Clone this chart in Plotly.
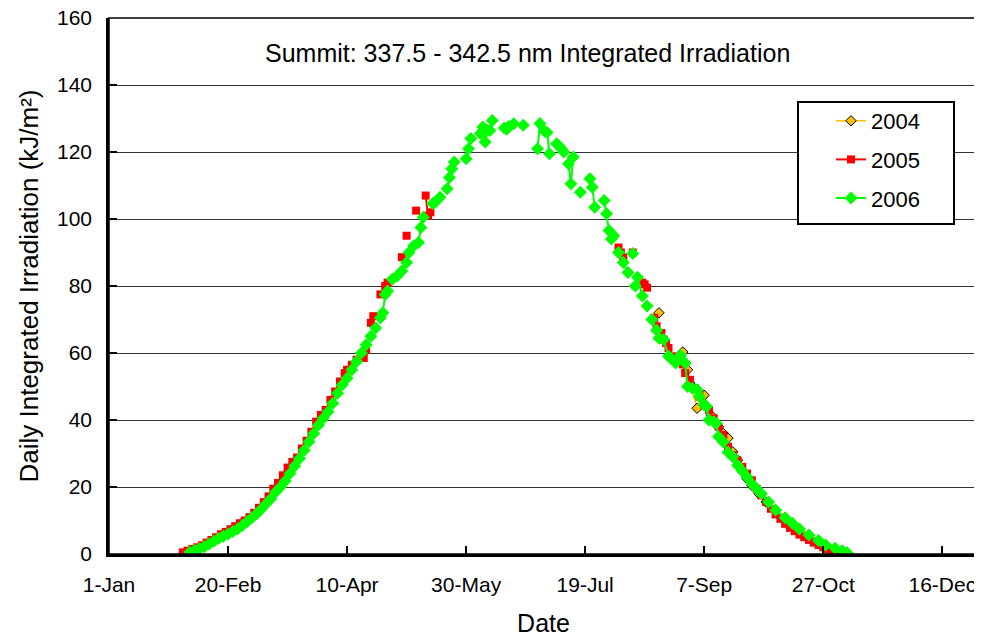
import plotly.graph_objects as go

# x = day of year (0 = 1-Jan), None = gap in record
tick_days = [0, 50, 100, 150, 200, 250, 300, 350]
tick_labels = ["1-Jan", "20-Feb", "10-Apr", "30-May", "19-Jul", "7-Sep", "27-Oct", "16-Dec"]

days_2004 = [231, None, 241, 243, 244, 247, 250, 253, 256, 258, 260, 262, 264, 266, 268, 270, 273, 276,
             280, 284, 287, 290, 294, 298, 301, 305, 308]
vals_2004 = [72.0, None, 60.3, 55.0, 51.0, 43.5, 47.4, 41.4, 38.0, 36.0, 34.6, 30.5, 28.0, 25.0, 22.5, 20.5, 18.0, 15.5,
             13.0, 10.5, 9.0, 7.5, 5.5, 3.8, 2.6, 1.5, 0.9]

days_2005 = [31, 33, 35, 37, 39, 41, 43, 45, 47, 49, 51, 53, 55, 57, 59, 61, 63, 65, 67, 69, 71, 73, 75, 77, 79,
             81, 83, 85, 87, 89, 91, 93, 95, 97, 99, 100, 102, 104, None, 106, 107, 108, None, 110, 111, None,
             114, None, 116, 117, None, 123, None, 125, None, 129, None, 133, 134, 135, None,
             214, 215, 216, None, 220, None, 224, 225, 226, None, 229, 230, 232, 233, 234, 235, 237, 239, 241,
             242, 244, 246, 248, 250, 252, 254, 256, 258, 260, 262, 264, 266, 268, 270, 272, 274, 276, 278,
             280, 282, 284, 286, 288, 290, 292, 294, 296, 298, 300, 302, 304, 306, 308]
vals_2005 = [0.5, 1.0, 1.5, 2.0, 2.6, 3.4, 4.2, 5.0, 5.9, 6.6, 7.4, 8.3, 9.2, 10.0, 11.0, 12.3, 13.8, 15.5, 17.2,
             19.5, 21.2, 23.5, 25.8, 27.5, 28.8, 31.5, 33.8, 36.5, 39.5, 41.5, 43.0, 46.0, 48.5, 51.5, 54.0, 55.0,
             56.5, 58.0, None, 59.5, 58.5, 61.0, None, 69.0, 71.0, None, 77.5, None, 80.0, 81.0, None, 88.6, None,
             95.0, None, 102.5, None, 107.0, 101.0, 102.0, None,
             91.5, 90.0, 88.5, None, 90.0, None, 81.0, 80.5, 79.5, None, 70.5, 68.0, 66.0, 64.0, 63.0, 61.5, 59.0,
             57.5, 56.6, 54.0, 52.0, 49.5, 47.0, 44.5, 43.0, 40.5, 38.0, 35.5, 32.0, 29.5, 28.0, 26.0, 24.0, 22.0,
             19.5, 17.5, 15.5, 13.5, 11.8, 10.5, 9.0, 7.8, 6.8, 5.8, 5.0, 4.2, 3.4, 2.7, 2.0, 1.4, 0.9, 0.5, 0.3]

days_2006 = [34, 36, 38, 40, 42, 44, 46, 48, 50, 52, 54, 56, 58, 60, 62, 64, 66, 68, None, 70, 72, 74, 76, 78, 80,
             82, None, 84, 86, 88, 90, 92, 94, 96, 98, 100, None, 102, 104, None, 106, 108, None, 110, None, 112,
             None, 114, 115, 116, 117, None, 119, None, 121, 123, 125, 126, None, 128, None, 130, 131, 132, None,
             136, None, 137, 139, None, 142, 143, 144, 145, None, 150, 151, 152, None, 156, 157, 158, 159, 160,
             None, 161, None, 166, 167, 168, 170, None, 174, None, 180, 181, 183, 184, 185, None, 188, 189, 190,
             191, None, 193, 194, 195, None, 198, None, 202, 203, 204, None, 208, 209, 210, 211, 212, None,
             214, 216, 218, None, 220, None, 221, 222, 224, None, 226, None,
             228, 230, 231, 233, 235, 236, 238, 240, 242, 243, 245, 247, 248, 250, 251, 252, 254, 255, 256,
             258, 260, 262, 264, 266, 268, 270, 272, 274, 277, 280, 284, 287, 290, 294, 298, 301, 305, 308, 310]
vals_2006 = [0.6, 1.1, 1.6, 2.2, 3.0, 3.8, 4.6, 5.3, 6.0, 6.7, 7.5, 8.5, 9.6, 10.8, 12.0, 13.4, 15.0, 16.5, None,
             18.5, 20.0, 21.8, 24.0, 26.3, 28.5, 31.0, None, 33.5, 36.0, 38.5, 40.5, 42.5, 45.0, 48.0, 50.5, 52.5,
             None, 55.0, 57.5, None, 60.0, 62.5, None, 65.0, None, 67.5, None, 70.5, 72.0, 77.5, 78.5, None, 82.0,
             None, 83.0, 84.5, 87.0, 90.0, None, 92.0, None, 93.0, 97.5, 100.5, None, 104.6, None, 105.0, 106.5,
             None, 109.0, 112.4, 115.0, 117.0, None, 118.0, 121.0, 124.0, None, 125.5, 127.5, 123.0, 126.5,
             126.4, None, 129.4, None, 127.2, 126.8, 127.6, 128.4, None, 128.0, None, 121.0, 128.5, 126.2, 125.8,
             119.5, None, 122.5, 121.8, 121.0, 120.0, None, 116.5, 110.5, 118.5, None, 108.0, None, 112.0, 109.5,
             103.5, None, 105.5, 101.6, 96.6, 94.0, 95.0, None, 90.0, 87.0, 84.0, None, 89.7, None, 80.0, 82.6,
             77.0, None, 74.0, None,
             70.0, 66.8, 64.4, 64.0, 59.0, 58.4, 57.0, 59.3, 57.0, 50.0, 49.5, 49.0, 47.0, 44.5, 44.0, 40.0, 39.5,
             39.0, 35.0, 33.4, 30.4, 29.0, 26.5, 24.8, 23.0, 21.0, 19.5, 18.0, 15.5, 13.1, 10.8, 9.2, 7.5, 5.7,
             4.0, 2.7, 1.7, 1.0, 0.4]

FONT = "Liberation Sans, Arial, sans-serif"

fig = go.Figure()

fig.add_trace(go.Scatter(
    x=days_2004, y=vals_2004, name="2004", mode="lines+markers",
    legendgroup="a", connectgaps=False,
    line=dict(color="#FFC000", width=1.5),
    marker=dict(symbol="diamond", size=8, color="#FFC000", line=dict(color="black", width=1))))

fig.add_trace(go.Scatter(
    x=days_2005, y=vals_2005, name="2005", mode="lines+markers",
    legendgroup="b", connectgaps=False,
    line=dict(color="#FF0000", width=2),
    marker=dict(symbol="square", size=8, color="#FF0000")))

fig.add_trace(go.Scatter(
    x=days_2006, y=vals_2006, name="2006", mode="lines+markers",
    legendgroup="c", connectgaps=False,
    line=dict(color="#00FF00", width=2),
    marker=dict(symbol="diamond", size=10, color="#00FF00")))

# page body has an 8 px margin: the figure is drawn from (8, 8) in the window
OFF = 8
W, H = 982 - OFF, 639 - OFF
L, T = 109 - OFF, 18 - OFF
pw, ph = 869, 536
R, B = W - L - pw, H - T - ph


def px_x(p):
    return (p - OFF - L) / pw


def px_y(p):
    return 1 - (p - OFF - T) / ph


fig.add_annotation(
    text="Summit: 337.5 - 342.5 nm Integrated Irradiation",
    xref="paper", yref="paper", x=px_x(527), y=px_y(53), xanchor="center", yanchor="middle",
    showarrow=False, font=dict(family=FONT, size=25, color="black"))

# plot frame (thin top/right)
fig.add_shape(type="rect", xref="paper", yref="paper", x0=0, y0=0, x1=1, y1=1,
              line=dict(color="black", width=1.5), layer="above")

# legend box
fig.add_shape(type="rect", xref="paper", yref="paper",
              x0=px_x(798), x1=px_x(954), y0=px_y(224), y1=px_y(102),
              line=dict(color="black", width=2), fillcolor="white", layer="above")

fig.update_layout(
    width=W, height=H,
    margin=dict(l=L, r=R, t=T, b=B, autoexpand=False),
    paper_bgcolor="white", plot_bgcolor="white",
    font=dict(family=FONT, size=21, color="black"),
    showlegend=True,
    legend=dict(x=px_x(831), y=px_y(100), xanchor="left", yanchor="top",
                bgcolor="rgba(0,0,0,0)", borderwidth=0,
                font=dict(family=FONT, size=22),
                tracegroupgap=7, itemwidth=30),
)

fig.update_xaxes(
    range=[0, 365], tickmode="array", tickvals=tick_days, ticktext=tick_labels,
    showgrid=False, zeroline=False, automargin=False,
    showline=True, linecolor="black", linewidth=2.5,
    ticks="inside", ticklen=8, tickwidth=2, tickcolor="black",
    ticklabelstandoff=10, ticklabeloverflow="allow",
    title=dict(text="Date", font=dict(family=FONT, size=25), standoff=20))

fig.update_yaxes(
    range=[0, 160], dtick=20, tick0=0, automargin=False,
    showgrid=True, gridcolor="#333333", gridwidth=1.2, zeroline=False,
    showline=True, linecolor="black", linewidth=2.5,
    ticks="inside", ticklen=8, tickwidth=2, tickcolor="black",
    ticklabelstandoff=10, ticklabeloverflow="allow",
    title=dict(text="Daily Integrated Irradiation (kJ/m²)", font=dict(family=FONT, size=26), standoff=11))

fig.write_html("out.html")
